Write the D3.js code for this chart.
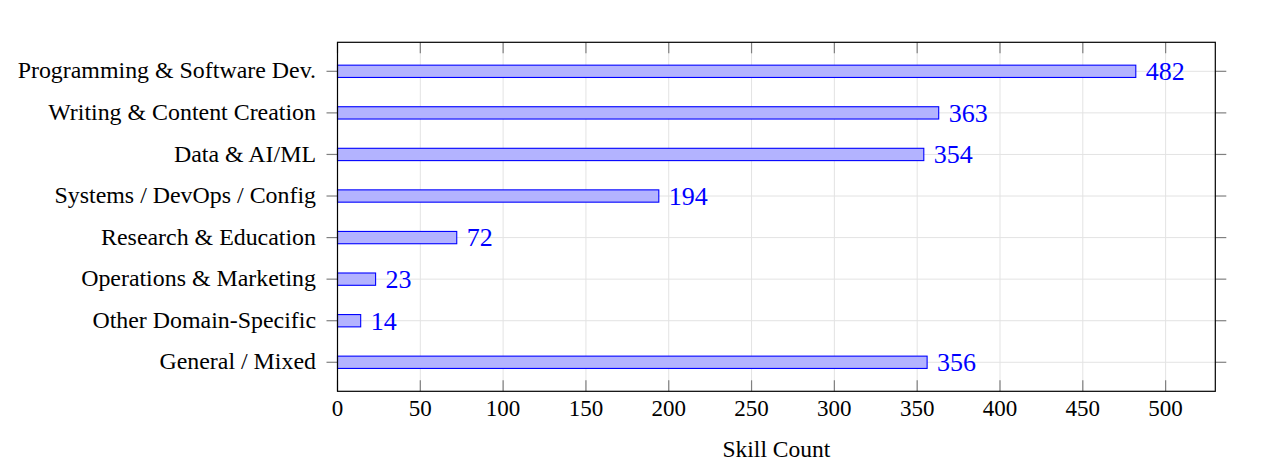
<!DOCTYPE html>
<html><head><meta charset="utf-8">
<script src="https://cdn.jsdelivr.net/npm/d3@7"></script>
<style>body{margin:0;background:#fff}svg{display:block}</style>
</head><body>
<script>
const categories = ["Programming & Software Dev.","Writing & Content Creation","Data & AI/ML","Systems / DevOps / Config","Research & Education","Operations & Marketing","Other Domain-Specific","General / Mixed"];
const values = [482, 363, 354, 194, 72, 23, 14, 356];
const xTicks = [0, 50, 100, 150, 200, 250, 300, 350, 400, 450, 500];
const xLabel = "Skill Count";

const W = 1269, H = 473;
const L = 337.5, R = 1215.3, T = 42.3, B = 391.3;
const svg = d3.select("body").append("svg").attr("width", W).attr("height", H);
const x = d3.scaleLinear().domain([0, 530]).range([L, R]);
const y = d3.scalePoint().domain(categories).range([T, B]).padding(0.698);
const font = "'Liberation Serif', 'Times New Roman', serif";
const barH = 12.3;

// grid
svg.append("g").selectAll("line").data(xTicks).join("line")
  .attr("x1", d => x(d)).attr("x2", d => x(d)).attr("y1", T).attr("y2", B)
  .attr("stroke", "#e3e3e3").attr("stroke-width", 1);
svg.append("g").selectAll("line").data(categories).join("line")
  .attr("x1", L).attr("x2", R).attr("y1", d => y(d)).attr("y2", d => y(d))
  .attr("stroke", "#e3e3e3").attr("stroke-width", 1);

// x ticks inside (top and bottom)
const tickC = "#808080";
svg.append("g").selectAll("line").data(xTicks).join("line")
  .attr("x1", d => x(d)).attr("x2", d => x(d)).attr("y1", B).attr("y2", B - 11)
  .attr("stroke", tickC).attr("stroke-width", 1.2);
svg.append("g").selectAll("line").data(xTicks).join("line")
  .attr("x1", d => x(d)).attr("x2", d => x(d)).attr("y1", T).attr("y2", T + 11)
  .attr("stroke", tickC).attr("stroke-width", 1.2);
// y ticks outside (left and right)
svg.append("g").selectAll("line").data(categories).join("line")
  .attr("x1", L - 11).attr("x2", L).attr("y1", d => y(d)).attr("y2", d => y(d))
  .attr("stroke", tickC).attr("stroke-width", 1.2);
svg.append("g").selectAll("line").data(categories).join("line")
  .attr("x1", R).attr("x2", R + 11).attr("y1", d => y(d)).attr("y2", d => y(d))
  .attr("stroke", tickC).attr("stroke-width", 1.2);

// bars
svg.append("g").selectAll("rect").data(categories).join("rect")
  .attr("x", x(0)).attr("y", d => y(d) - barH / 2)
  .attr("width", (d, i) => x(values[i]) - x(0)).attr("height", barH)
  .attr("fill", "#b3b3ff").attr("stroke", "#0000ff").attr("stroke-width", 1.1);

// value labels
svg.append("g").selectAll("text").data(categories).join("text")
  .attr("x", (d, i) => x(values[i]) + 10).attr("y", d => y(d))
  .attr("dy", "0.34em")
  .attr("font-family", font).attr("font-size", 26).attr("fill", "#0000ff")
  .text((d, i) => values[i]);

// frame
svg.append("rect").attr("x", L).attr("y", T).attr("width", R - L).attr("height", B - T)
  .attr("fill", "none").attr("stroke", "#000").attr("stroke-width", 1.2);

// x tick labels
svg.append("g").selectAll("text").data(xTicks).join("text")
  .attr("x", d => x(d)).attr("y", 416)
  .attr("text-anchor", "middle").attr("font-family", font).attr("font-size", 23)
  .attr("fill", "#000").text(d => d);

// category labels
svg.append("g").selectAll("text").data(categories).join("text")
  .attr("x", 316).attr("y", d => y(d)).attr("dy", "0.3em")
  .attr("text-anchor", "end").attr("font-family", font).attr("font-size", 23.9)
  .attr("fill", "#000").text(d => d);

// axis label
svg.append("text").attr("x", (L + R) / 2).attr("y", 457)
  .attr("text-anchor", "middle").attr("font-family", font).attr("font-size", 23.5)
  .attr("fill", "#000").text(xLabel);
</script>
</body></html>
